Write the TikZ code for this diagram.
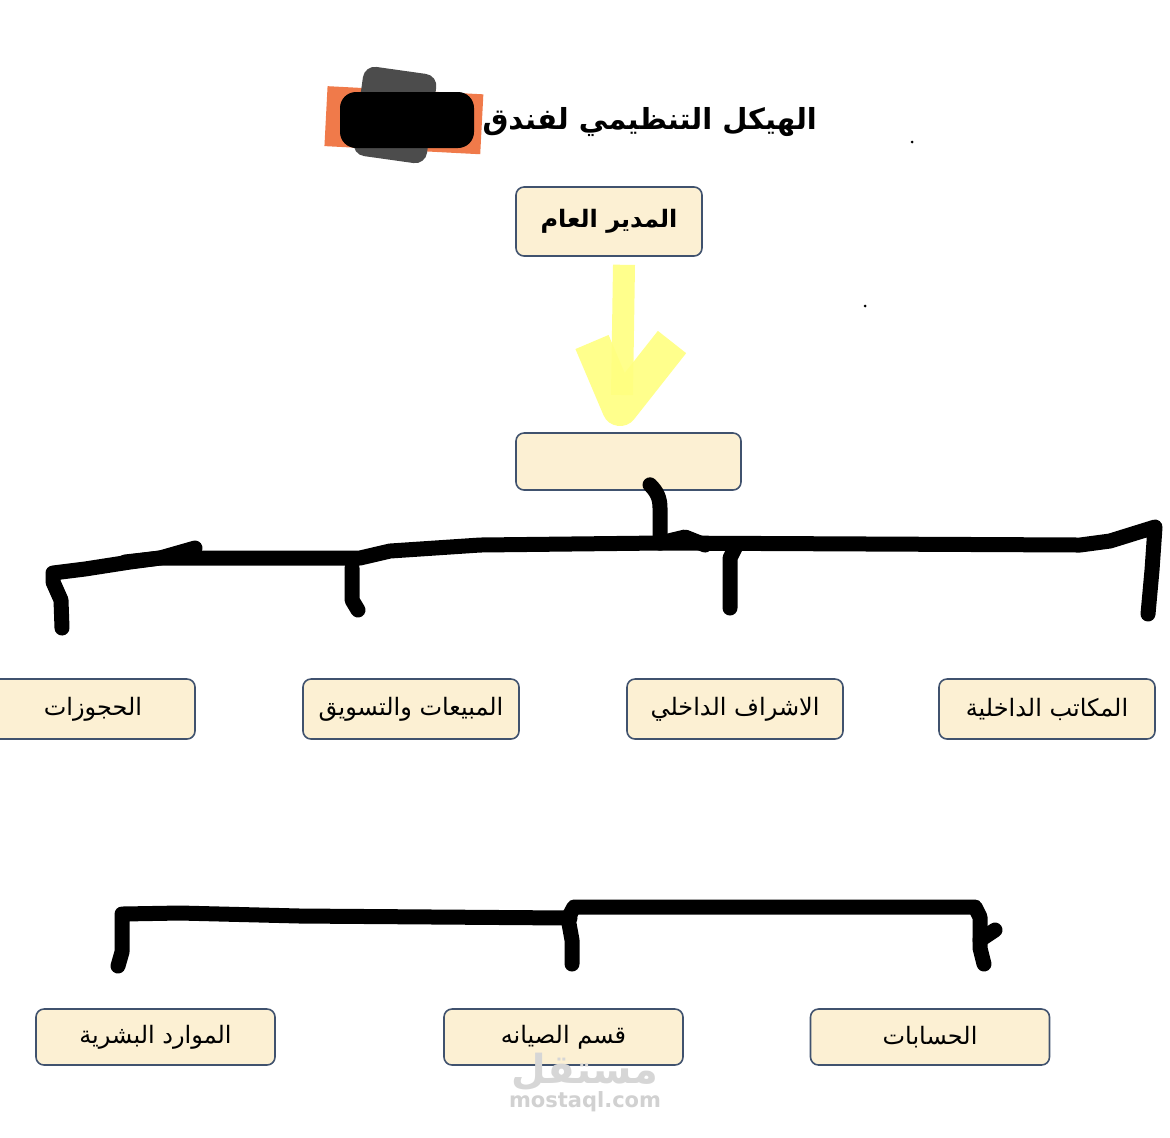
\documentclass[tikz,border=0pt]{standalone}
\usepackage{fontspec}
\newfontfamily\arabicfont[Script=Arabic]{DejaVu Sans}
\TeXXeTstate=1
\usetikzlibrary{positioning}
\definecolor{boxfill}{HTML}{FCF0D3}
\definecolor{boxline}{HTML}{40526E}
\definecolor{hilite}{HTML}{FFFF80}
\definecolor{smudge}{HTML}{F07A4A}

\begin{document}
\begin{tikzpicture}[x=0.5pt,y=-0.5pt,
    dept/.style={draw=boxline,fill=boxfill,rounded corners=4pt,line width=0.8pt,
      minimum width=108pt,minimum height=30pt,inner sep=0pt,
      font=\arabicfont\fontsize{12}{14}\selectfont},
    lowdept/.style={dept,minimum width=119.5pt,minimum height=28pt},
    pen/.style={line width=7.5pt,line cap=round,line join=round},
    marker/.style={draw=hilite,line width=11pt,opacity=0.9,line join=round}]

    \useasboundingbox[fill=white] (0,0) rectangle (1170,1137);

    % title with the smudged name
    \fill[smudge,rotate around={-3:(400,118)}] (326,90) rectangle (482,150);
    \fill[black!70,rounded corners=6pt,rotate around={-8:(395,115)}] (358,70) rectangle (432,160);
    \fill[black,rounded corners=8pt] (340,92) rectangle (474,148);
    \node[anchor=east,font=\arabicfont\bfseries\fontsize{14.5}{18}\selectfont] (title) at (824,122) {\beginR الهيكل التنظيمي لفندق\endR};
    \fill (912,142) circle (1.5);
    \fill (865,306) circle (1.5);

    % boxes
    \node[dept,minimum width=93pt,minimum height=34.5pt,font=\arabicfont\bfseries\fontsize{12}{14}\selectfont] (gm) at (609,221.5) {\beginR المدير العام\endR};
    \node[dept,minimum width=112.5pt,minimum height=28.5pt] (mid) at (628.5,461.5) {};

    \node[dept,minimum width=116pt] (book) at (79,709) {\hspace*{14pt}\beginR الحجوزات\endR};
    \node[dept] (sales) at (411,709) {\beginR المبيعات والتسويق\endR};
    \node[dept] (super) at (735,709) {\beginR الاشراف الداخلي\endR};
    \node[dept] (office) at (1047,709) {\beginR المكاتب الداخلية\endR};

    \node[lowdept] (hr) at (155.5,1037) {\beginR الموارد البشرية\endR};
    \node[lowdept] (maint) at (563.5,1037) {\beginR قسم الصيانه\endR};
    \node[lowdept] (acct) at (930,1037) {\beginR الحسابات\endR};

    % yellow arrow
    \draw[marker] (gm.south -| 624,0) ++(0,-4pt) -- (622,395);
    \draw[marker,line width=18pt] (592,342) -- (620,408) -- (672,342);

    % hand drawn lines, upper row
    \coordinate (hub) at (660,543);
    \coordinate (t1) at (62,628);
    \coordinate (t2) at (358,610);
    \coordinate (t3) at (730,608);
    \coordinate (t4) at (1148,614);
    \draw[pen] (mid.south -| 650,0) ++(0,3pt) to[out=-45,in=90] (660,508) -- (hub);
    \draw[pen] (t1) -- (61,600) -- (53,582) -- (53,573) -- (85,569) -- (130,562) -- (160,558)
      -- (360,558) -- (390,551) -- (480,545) -- (hub) -- (1080,545) -- (1110,541) -- (1155,527)
      -- (1152,570) -- (t4);
    \draw[pen] (125,562) -- (160,558) -- (195,548);
    \draw[pen] (hub) -- (685,537) -- (705,545);
    \draw[pen] (t2) -- (352,600) -- (352,568);
    \draw[pen] (t3) -- (730,558) -- (735,548);

    % hand drawn lines, lower row
    \coordinate (b1) at (118,966);
    \coordinate (b2) at (572,964);
    \coordinate (b3) at (984,964);
    \draw[pen] (b1) -- (122,952) -- (122,914) -- (180,913) -- (300,916) -- (570,918);
    \draw[pen] (b2) -- (572,940) -- (568,918) -- (574,907) -- (975,907) -- (980,917)
      -- (980,948) -- (b3);
    \draw[pen] (980,940) -- (995,930);

    % watermark
    \node[text=black!16,font=\arabicfont\bfseries\fontsize{20}{22}\selectfont] (wmark) at (585,1072) {\beginR مستقل\endR};
    \node[text=black!18,font=\arabicfont\bfseries\fontsize{10.5}{12}\selectfont] (wsite) at (585,1102) {mostaql.com};
\end{tikzpicture}
\end{document}
